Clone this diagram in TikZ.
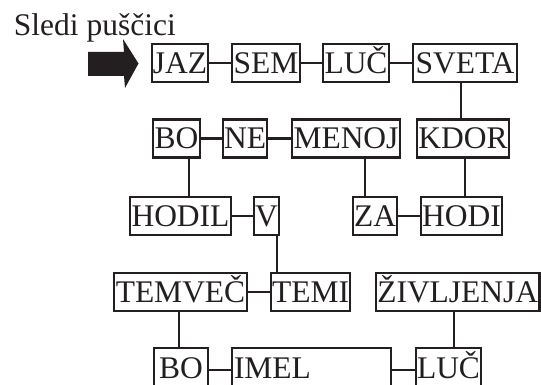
\documentclass[tikz,border=0pt]{standalone}
\usepackage{fontspec}
\setmainfont{Liberation Serif}
\newlength{\du}
\setlength{\du}{1pt}
\definecolor{dialinecolor}{rgb}{0.137255, 0.121569, 0.125490}
\newcommand{\wordsize}{\fontsize{31.5pt}{36pt}\selectfont}
\tikzset{
  wordbox/.style={draw=dialinecolor, text=dialinecolor, line width=2.2\du, inner sep=0pt,
    minimum height=38\du, text height=21\du, text depth=0pt, font=\wordsize},
  lastbox/.style={wordbox, minimum height=44\du, text depth=5\du},
  wordline/.style={draw=dialinecolor, line width=2.2\du},
}

\begin{document}
\begin{tikzpicture}
\pgftransformxscale{1.000000}
\pgftransformyscale{-1.000000}
\useasboundingbox (0\du,0\du) rectangle (541\du,385\du);
% title and the big arrow
\node[anchor=base east, inner sep=0pt, text=dialinecolor, font=\wordsize] (title) at (176.000000\du,35.500000\du){Sledi puščici};
\fill[dialinecolor] (88.000000\du,52.000000\du)--(124.000000\du,52.000000\du)--(123.000000\du,39.000000\du)--(138.500000\du,63.500000\du)--(125.000000\du,88.000000\du)--(124.000000\du,76.000000\du)--(88.000000\du,76.000000\du)--cycle;
% row 1
\node[wordbox, minimum width=56\du] (jaz) at (180.000000\du,63.000000\du){JAZ};
\node[wordbox, minimum width=68\du] (sem) at (266.000000\du,63.000000\du){SEM};
\node[wordbox, minimum width=66\du] (luca) at (356.000000\du,63.000000\du){LUČ};
\node[wordbox, minimum width=104\du] (sveta) at (465.000000\du,63.000000\du){SVETA};
% row 2
\node[wordbox, minimum width=47\du] (boa) at (176.500000\du,138.500000\du){BO};
\node[wordbox, minimum width=44\du] (ne) at (245.000000\du,138.500000\du){NE};
\node[wordbox, minimum width=108\du] (menoj) at (346.000000\du,138.500000\du){MENOJ};
\node[wordbox, minimum width=92\du] (kdor) at (463.000000\du,138.500000\du){KDOR};
% row 3
\node[wordbox, minimum width=101\du] (hodil) at (180.500000\du,216.000000\du){HODIL};
\node[wordbox, minimum width=25\du] (v) at (266.500000\du,216.000000\du){V};
\node[wordbox, minimum width=44\du] (za) at (375.000000\du,216.000000\du){ZA};
\node[wordbox, minimum width=81\du] (hodi) at (461.500000\du,216.000000\du){HODI};
% row 4
\node[wordbox, minimum width=133\du] (temvec) at (180.500000\du,292.000000\du){TEMVEČ};
\node[wordbox, minimum width=79\du] (temi) at (310.500000\du,292.000000\du){TEMI};
\node[wordbox, minimum width=163.5\du] (zivljenja) at (457.750000\du,292.000000\du){ŽIVLJENJA};
% row 5 (cut by the lower edge)
\node[lastbox, minimum width=54\du] (bob) at (181.000000\du,370.000000\du){BO};
\node[lastbox, minimum width=159\du] (imel) at (311.500000\du,370.000000\du){\makebox[155\du][l]{IMEL}};
\node[lastbox, minimum width=65\du] (lucb) at (448.500000\du,370.000000\du){LUČ};
% horizontal links
\draw[wordline] (jaz)--(sem);
\draw[wordline] (sem)--(luca);
\draw[wordline] (luca)--(sveta);
\draw[wordline] (boa)--(ne);
\draw[wordline] (ne)--(menoj);
\draw[wordline] (hodil)--(v);
\draw[wordline] (za)--(hodi);
\draw[wordline] (temvec)--(temi);
\draw[wordline] (bob)--(imel);
\draw[wordline] (imel)--(lucb);
% vertical links
\draw[wordline] ([xshift=-2\du]kdor.north)--([xshift=-2\du]kdor.north |- sveta.south);
\draw[wordline] ([xshift=12.5\du]boa.south)--([xshift=12.5\du]boa.south |- hodil.north);
\draw[wordline] ([xshift=-10\du]za.north)--([xshift=-10\du]za.north |- menoj.south);
\draw[wordline] ([xshift=3.5\du]hodi.north)--([xshift=3.5\du]hodi.north |- kdor.south);
\draw[wordline] ([xshift=10.5\du]v.south)--([xshift=10.5\du]v.south |- temi.north);
\draw[wordline] ([xshift=-2\du]bob.north)--([xshift=-2\du]bob.north |- temvec.south);
\draw[wordline] ([xshift=5.5\du]lucb.north)--([xshift=5.5\du]lucb.north |- zivljenja.south);
\end{tikzpicture}
\end{document}
